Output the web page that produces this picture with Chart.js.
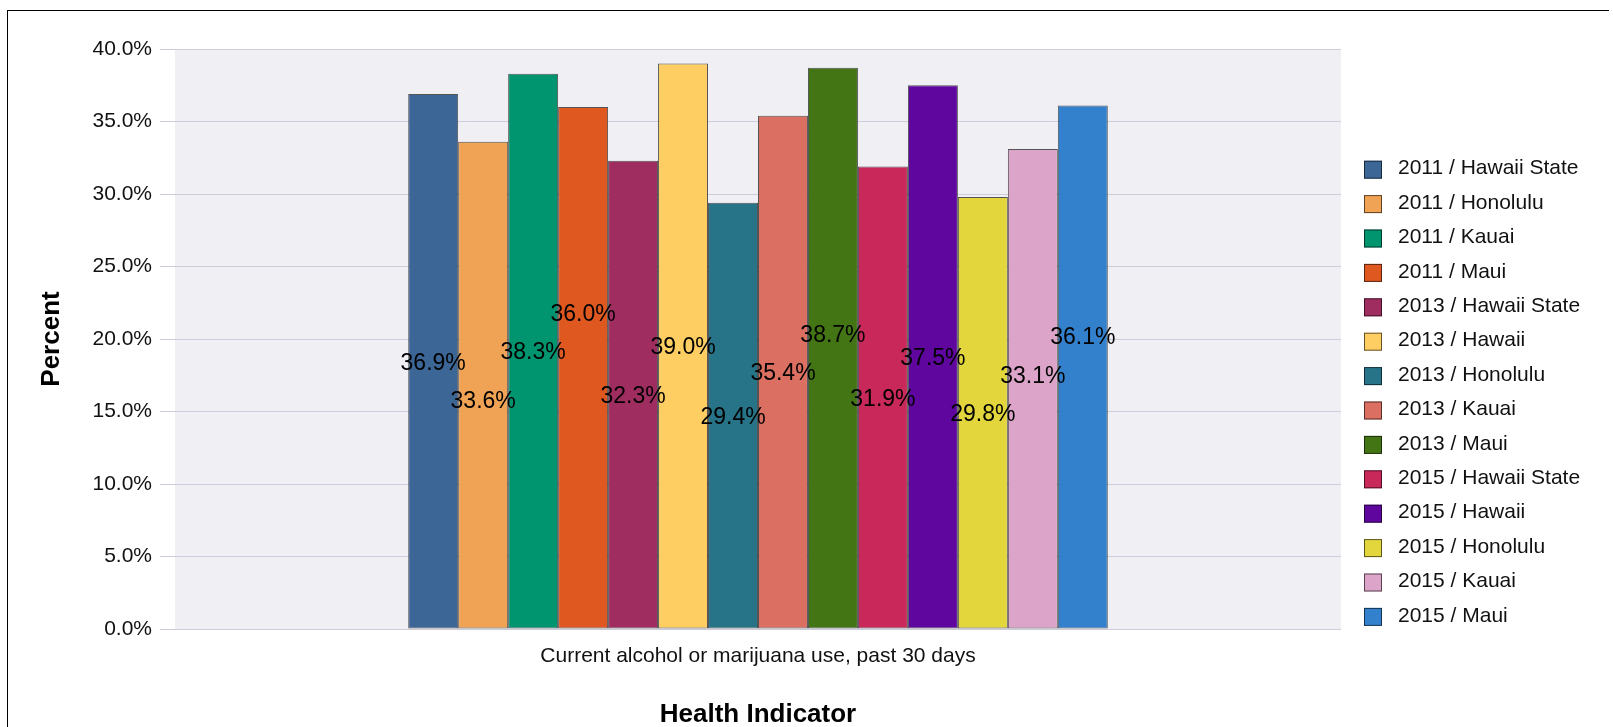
<!DOCTYPE html>
<html>
<head>
<meta charset="utf-8">
<script src="https://cdn.jsdelivr.net/npm/chart.js@4"></script>
<style>
  html, body { margin: 0; padding: 0; background: #fff; overflow: hidden; }
  #wrap { position: relative; width: 1613px; height: 727px; }
  #frame {
    position: absolute; left: 7px; top: 10px; width: 1601px; height: 800px;
    border-left: 1px solid #000; border-top: 1px solid #000; pointer-events: none;
  }
</style>
</head>
<body>
<div id="wrap">
  <canvas id="chart"></canvas>
  <div id="frame"></div>
</div>
<script>
// categories / series / values
const categories = ["Current alcohol or marijuana use, past 30 days"];
const seriesNames = [
  "2011 / Hawaii State", "2011 / Honolulu", "2011 / Kauai", "2011 / Maui",
  "2013 / Hawaii State", "2013 / Hawaii", "2013 / Honolulu", "2013 / Kauai", "2013 / Maui",
  "2015 / Hawaii State", "2015 / Hawaii", "2015 / Honolulu", "2015 / Kauai", "2015 / Maui"
];
const seriesValues = [36.9, 33.6, 38.3, 36.0, 32.3, 39.0, 29.4, 35.4, 38.7, 31.9, 37.5, 29.8, 33.1, 36.1];
const seriesColors = [
  "#3B6696", "#F0A354", "#00946F", "#DE5820", "#A02D60", "#FECE62", "#277489",
  "#DB6F62", "#447515", "#C9285A", "#5E069D", "#E2D63C", "#DBA4C8", "#3380CC"
];
const yTicks = [0, 5, 10, 15, 20, 25, 30, 35, 40];

const FONT = '"Liberation Sans", Arial, Helvetica, sans-serif';
Chart.defaults.font.family = FONT;
Chart.defaults.color = "#111";

// grey plot background
const plotBg = {
  id: "plotBg",
  beforeDraw(chart) {
    const a = chart.chartArea, ctx = chart.ctx;
    ctx.save();
    ctx.fillStyle = "#EFEFF4";
    ctx.fillRect(a.left, a.top, a.right - a.left, a.bottom - a.top);
    ctx.restore();
  }
};

// value labels at the middle of each bar, nudged up/down when they collide
const barLabels = {
  id: "barLabels",
  afterDatasetsDraw(chart) {
    const ctx = chart.ctx;
    const gap = 38.5;
    const mids = chart.data.datasets.map((ds, i) => {
      const bar = chart.getDatasetMeta(i).data[0];
      return { x: bar.x, y: (bar.y + bar.base) / 2 };
    });
    const ys = [];
    mids.forEach((m, i) => {
      let y = m.y;
      if (i > 0 && Math.abs(y - ys[i - 1]) < gap) {
        const prev = ys[i - 1];
        const next = i < mids.length - 1 ? mids[i + 1].y : null;
        let up;
        if (next === null || (prev - y) * (next - y) > 0) up = y < prev;
        else up = true;
        y = up ? prev - gap : prev + gap;
      }
      ys.push(y);
    });
    ctx.save();
    ctx.font = "23px " + FONT;
    ctx.fillStyle = "#000";
    ctx.textAlign = "center";
    ctx.textBaseline = "middle";
    chart.data.datasets.forEach((ds, i) => {
      ctx.fillText(ds.data[0].toFixed(1) + "%", mids[i].x, ys[i] + 2);
    });
    ctx.restore();
  }
};

// legend on the right
const sideLegend = {
  id: "sideLegend",
  afterDraw(chart) {
    const ctx = chart.ctx;
    const x = chart.chartArea.right + 23;
    const top = 169.7, step = 34.4, box = 18;
    ctx.save();
    ctx.font = "21px " + FONT;
    ctx.textBaseline = "middle";
    ctx.textAlign = "left";
    chart.data.datasets.forEach((ds, i) => {
      const cy = top + i * step;
      ctx.fillStyle = ds.backgroundColor;
      ctx.fillRect(x, cy - box / 2, box, box);
      ctx.strokeStyle = "rgba(0,0,0,0.6)";
      ctx.lineWidth = 1;
      ctx.strokeRect(x + 0.5, cy - box / 2 + 0.5, box - 1, box - 1);
      ctx.fillStyle = "#111";
      ctx.fillText(ds.label, x + 34, cy - 1);
    });
    ctx.restore();
  }
};

const datasets = seriesNames.map((name, i) => ({
  label: name,
  data: [seriesValues[i]],
  backgroundColor: seriesColors[i],
  borderColor: "rgba(0,0,0,0.65)",
  borderWidth: 1,
  borderSkipped: false,
  categoryPercentage: 0.6,
  barPercentage: 1.0
}));

new Chart(document.getElementById("chart"), {
  type: "bar",
  data: { labels: categories, datasets: datasets },
  plugins: [plotBg, barLabels, sideLegend],
  options: {
    responsive: true,
    maintainAspectRatio: false,
    animation: false,
    layout: { padding: { left: 8, top: 49, right: 272, bottom: 0 } },
    plugins: {
      legend: { display: false },
      tooltip: { enabled: false }
    },
    scales: {
      x: {
        grid: { display: false, drawTicks: false },
        border: { display: false },
        ticks: { font: { size: 21 }, padding: 15, color: "#111" },
        title: {
          display: true,
          text: "Health Indicator",
          font: { size: 26, weight: "bold", lineHeight: 0.95 },
          padding: 0,
          color: "#000"
        },
        afterFit(scale) { scale.height = 98; }
      },
      y: {
        min: 0,
        max: 40,
        afterBuildTicks(scale) { scale.ticks = yTicks.map(v => ({ value: v })); },
        grid: { color: "#CCCCDA", tickLength: 15, lineWidth: 1 },
        border: { display: false },
        ticks: {
          font: { size: 21 },
          padding: 8,
          color: "#111",
          callback: v => Number(v).toFixed(1) + "%"
        },
        title: {
          display: true,
          text: "Percent",
          font: { size: 26, weight: "bold", lineHeight: 1.1 },
          padding: { top: 30, bottom: 0 },
          color: "#000"
        },
        afterFit(scale) { scale.width = 167; }
      }
    }
  }
});
</script>
</body>
</html>
